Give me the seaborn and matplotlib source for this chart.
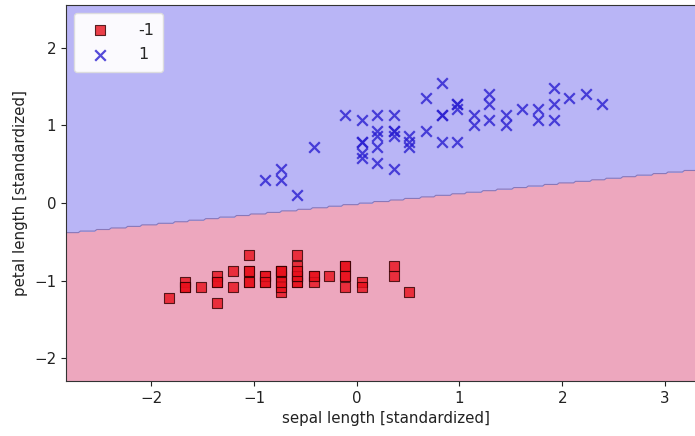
import numpy as np
import pandas as pd
import matplotlib
matplotlib.use('Agg')
import matplotlib.pyplot as plt
from matplotlib.colors import ListedColormap
import seaborn as sns

# standardized iris features: sepal length (x) and petal length (y)
setosa_x = [-0.58, -0.89, -1.20, -1.36, -0.74, -0.11, -1.36, -0.74, -1.67, -0.89,
            -0.11, -1.05, -1.05, -1.83, 0.51, 0.36, -0.11, -0.58, 0.36, -0.58,
            -0.11, -0.58, -1.36, -0.58, -1.05, -0.74, -0.74, -0.42, -0.42, -1.20,
            -1.05, -0.11, -0.42, 0.05, -0.89, -0.74, 0.05, -0.89, -1.67, -0.58,
            -0.74, -1.52, -1.67, -0.74, -0.58, -1.05, -0.58, -1.36, -0.27, -0.74]
setosa_y = [-1.01, -1.01, -1.08, -0.94, -1.01, -0.81, -1.01, -0.94, -1.01, -0.94,
            -0.94, -0.87, -1.01, -1.22, -1.15, -0.94, -1.08, -1.01, -0.81, -0.94,
            -0.81, -0.94, -1.29, -0.81, -0.67, -0.87, -0.87, -0.94, -1.01, -0.87,
            -0.87, -0.94, -0.94, -1.01, -0.94, -1.15, -1.08, -1.01, -1.08, -0.94,
            -1.08, -1.08, -1.08, -0.87, -0.67, -1.01, -0.87, -1.01, -0.94, -1.01]
versi_x = [2.39, 1.45, 2.23, 0.05, 1.61, 0.36, 1.29, -0.89, 1.76, -0.42,
           -0.74, 0.67, 0.83, 0.98, 0.20, 1.92, 0.20, 0.51, 1.14, 0.20,
           0.67, 0.98, 1.29, 0.98, 1.45, 1.76, 2.07, 1.92, 0.83, 0.36,
           0.05, 0.05, 0.51, 0.83, -0.11, 0.83, 1.92, 1.29, 0.20, 0.05,
           0.05, 0.98, 0.51, -0.74, 0.20, 0.36, 0.36, 1.14, -0.58, 0.36]
versi_y = [1.28, 1.14, 1.41, 0.79, 1.21, 1.14, 1.28, 0.30, 1.21, 0.72,
           0.44, 0.93, 0.79, 1.28, 0.51, 1.07, 1.14, 0.86, 1.14, 0.72,
           1.35, 0.79, 1.41, 1.28, 1.00, 1.07, 1.35, 1.48, 1.14, 0.44,
           0.65, 0.58, 0.72, 1.55, 1.14, 1.14, 1.28, 1.07, 0.86, 0.79,
           1.07, 1.21, 0.79, 0.30, 0.93, 0.93, 0.93, 1.00, 0.10, 0.86]

# linear decision function w0 + w1*x + w2*y
w0, w1, w2 = 0.012, -0.133, 1.0

df = pd.DataFrame({
    'x': setosa_x + versi_x,
    'y': setosa_y + versi_y,
    'label': [-1] * len(setosa_x) + [1] * len(versi_x),
})

sns.set_style('ticks')
fig = plt.figure(figsize=(6.95, 4.36), dpi=100)
ax = fig.add_axes([66 / 695, 55 / 436, 639 / 695, 376 / 436])

# decision regions
x1_min, x1_max = df['x'].min() - 1, df['x'].max() + 1
x2_min, x2_max = df['y'].min() - 1, df['y'].max() + 1
xx1, xx2 = np.meshgrid(np.arange(x1_min, x1_max, 0.02),
                       np.arange(x2_min, x2_max, 0.02))
Z = np.where(w0 + w1 * xx1 + w2 * xx2 >= 0, 1, -1)
ax.contourf(xx1, xx2, Z, levels=[-2, 0, 2],
            cmap=ListedColormap(['#eda7be', '#b9b5f6']))
ax.contour(xx1, xx2, Z, levels=[0], colors='#8a78b8', linewidths=0.8)
ax.set_xlim(x1_min, x1_max)
ax.set_ylim(x2_min, x2_max)

sns.scatterplot(data=df[df['label'] == -1], x='x', y='y', ax=ax,
                marker='s', color='#e8101c', edgecolor='#300000', linewidth=0.8,
                s=55, alpha=0.8, label='-1')
sns.scatterplot(data=df[df['label'] == 1], x='x', y='y', ax=ax,
                marker='x', color='#2a1ed0', linewidth=1.6,
                s=58, alpha=0.8, label='1')

ax.set_xlabel('sepal length [standardized]', fontsize=10.8, color='#222222')
ax.set_ylabel('petal length [standardized]', fontsize=10.8, color='#222222')
ax.tick_params(labelsize=10.8, colors='#222222')
ax.legend(loc='upper left', fontsize=11.5, frameon=True, facecolor='white',
          framealpha=0.95, edgecolor='#dddddd', borderpad=0.6,
          handletextpad=1.4, labelspacing=0.6)
for sp in ax.spines.values():
    sp.set_color('#333333')

fig.savefig('out.png', dpi=100)
